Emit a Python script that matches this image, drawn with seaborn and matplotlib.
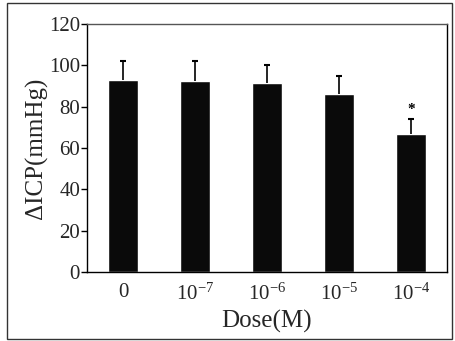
import matplotlib
matplotlib.use("Agg")
import matplotlib.pyplot as plt
import seaborn as sns
import pandas as pd
import numpy as np
from matplotlib.patches import Rectangle

doses = ["0", "1e-7", "1e-6", "1e-5", "1e-4"]
tick_labels = ["0", r"$\mathregular{10^{-7}}$", r"$\mathregular{10^{-6}}$",
               r"$\mathregular{10^{-5}}$", r"$\mathregular{10^{-4}}$"]
means = [93.0, 92.5, 91.5, 86.0, 67.0]
sds = [9.0, 9.5, 8.5, 9.0, 7.0]
signif = ["", "", "", "", "*"]

sns.set_theme(style="white")
plt.rcParams["font.family"] = ["Liberation Serif", "DejaVu Serif"]
plt.rcParams["mathtext.fontset"] = "custom"
plt.rcParams["mathtext.rm"] = "Liberation Serif"

df = pd.DataFrame({"dose": doses, "icp": means})

fig = plt.figure(figsize=(4.56, 3.41), dpi=100)
ax = fig.add_axes([87/456, 1-272/341, 360/456, 248/341])

sns.barplot(data=df, x="dose", y="icp", color="#0a0a0a", saturation=1,
            width=0.42, errorbar=None, ax=ax, order=doses)
xpos = np.arange(len(doses))
tops = np.array(means) + np.array(sds)
ax.vlines(xpos, means, tops, color="black", linewidth=1.2)
ax.hlines(tops, xpos - 0.045, xpos + 0.045, color="black", linewidth=1.5)
for i, (m, s, t) in enumerate(zip(means, sds, signif)):
    if t:
        ax.text(i, m + s + 1.5, t, ha="center", va="bottom", fontsize=11,
                color="black", fontweight="bold")

ax.set_xlim(-0.5, 4.5)
ax.set_ylim(0, 120)
ax.set_yticks(range(0, 121, 20))
ax.set_xticks(range(len(doses)))
ax.set_xticklabels(tick_labels)
ax.tick_params(axis="y", direction="out", length=4, width=1, color="black",
               labelsize=15, pad=1, left=True)
ax.tick_params(axis="x", length=0, labelsize=15, pad=8)
ax.set_xlabel("Dose(M)", fontsize=18, labelpad=4)
ax.set_ylabel("ΔICP(mmHg)", fontsize=18, labelpad=1)
for sp in ax.spines.values():
    sp.set_visible(True)
    sp.set_color("black")
    sp.set_linewidth(1.0)
ax.spines["top"].set_color("#555555")

fig.patches.append(Rectangle((7/456, 2/341), 445/456, 336/341, transform=fig.transFigure,
                             fill=False, edgecolor="#333333", linewidth=1.0))

fig.savefig("out.png", dpi=100)
